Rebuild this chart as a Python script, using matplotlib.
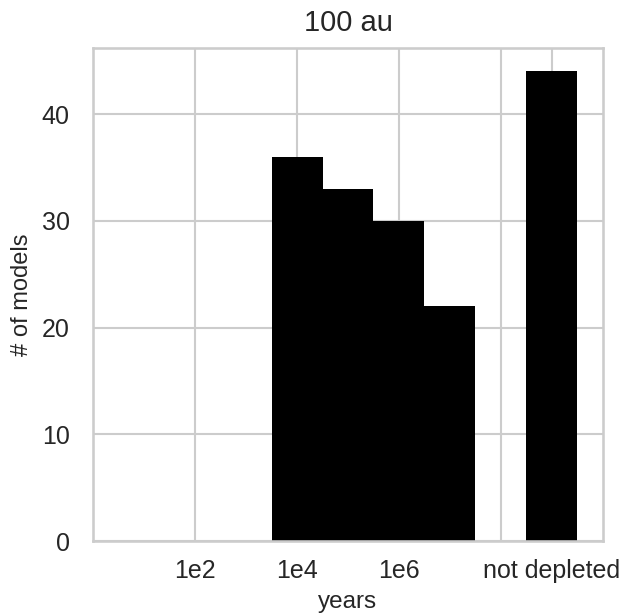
import matplotlib
matplotlib.use("Agg")
import matplotlib.pyplot as plt
import seaborn as sns

sns.set_theme(style="whitegrid", context="talk")
plt.rcParams["font.family"] = ["Liberation Sans", "DejaVu Sans"]

# histogram of depletion time (log10 years), last bin = not depleted
bin_centers = [4, 5, 6, 7, 9]
counts = [36, 33, 30, 22, 44]
tick_pos = [2, 4, 6, 8, 9]
tick_labels = ["1e2", "1e4", "1e6", "", "not depleted"]

fig = plt.figure(figsize=(6.22, 6.13), dpi=100)
ax = fig.add_axes([0.150, 0.117, 0.819, 0.805])

ax.bar(bin_centers, counts, width=1.0, color="black", linewidth=0)

ax.set_xlim(0, 10)
ax.set_ylim(0, 46.2)
ax.set_xticks(tick_pos)
ax.set_xticklabels(tick_labels)
ax.set_yticks([0, 10, 20, 30, 40])
ax.tick_params(labelsize=18, colors="#262626")
ax.tick_params(axis="y", pad=8)
ax.set_xlabel("years", fontsize=17.5, labelpad=6)
ax.set_ylabel("# of models", fontsize=17, labelpad=6)
ax.set_title("100 au", fontsize=21, pad=12)

fig.savefig("out.png", dpi=100)
